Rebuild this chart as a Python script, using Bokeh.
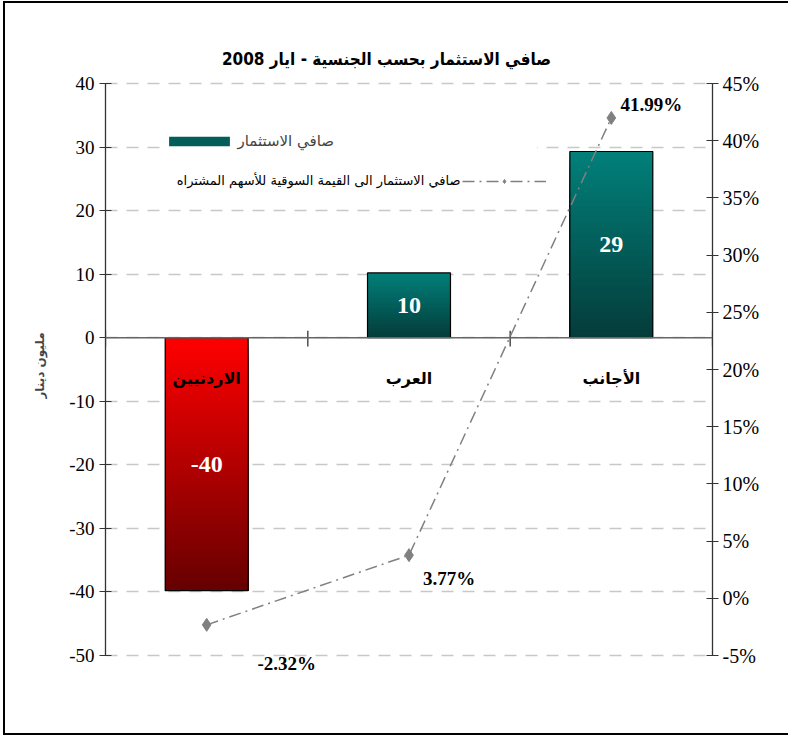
from bokeh.plotting import figure
from bokeh.models import (Range1d, LinearAxis, FactorRange, FixedTicker, PrintfTickFormatter,
                          Legend, LegendItem, Label, ColumnDataSource, Span)
from bokeh.transform import dodge
from bokeh.core.properties import value
from bokeh.embed import file_html
from bokeh.resources import INLINE

# ---------------- data ----------------
categories = ["الاردنيين", "العرب", "الأجانب"]
net_investment = [-39.8, 10.2, 29.3]          # million JD
market_value_pct = [-2.32, 3.77, 41.99]       # percent
left_ticks = [-50, -40, -30, -20, -10, 0, 10, 20, 30, 40]
right_ticks = [-5, 0, 5, 10, 15, 20, 25, 30, 35, 40, 45]
title_text = "صافي الاستثمار بحسب الجنسية - ايار 2008"
bar_series_name = "صافي الاستثمار"
line_series_name = "صافي الاستثمار الى القيمة السوقية للأسهم المشتراه"
y_axis_title = "مليون دينار"

# ---------------- layout (pixels) ----------------
OFF_X, OFF_Y = 5, 3                 # figure offset on the page
W, H = 783, 730
AX_TOP, AX_BOT = 83, 655            # where the axis bounds sit
FR_LEFT, FR_RIGHT = 105, 712
FR_TOP, FR_BOT = 40, 690            # extended frame so outside-axis texts are not clipped
L_MIN, L_MAX = left_ticks[0], left_ticks[-1]
R_MIN, R_MAX = right_ticks[0], right_ticks[-1]
ppu_l = (AX_BOT - AX_TOP) / (L_MAX - L_MIN)
ppu_r = (AX_BOT - AX_TOP) / (R_MAX - R_MIN)
left_range = Range1d(L_MIN - (FR_BOT - AX_BOT) / ppu_l, L_MAX + (AX_TOP - FR_TOP) / ppu_l)
right_range = Range1d(R_MIN - (FR_BOT - AX_BOT) / ppu_r, R_MAX + (AX_TOP - FR_TOP) / ppu_r)

def y_at(px):            # left-axis data value at a page pixel row
    return L_MAX - (px - AX_TOP) / ppu_l

def x_at(px):            # synthetic categorical coordinate at a page pixel column
    return (px - FR_LEFT) / (FR_RIGHT - FR_LEFT) * len(categories)

# ---------------- styles ----------------
SERIF = "Liberation Serif"
SANS = "DejaVu Sans"
POS_TOP, POS_BOT = (2, 128, 122), (4, 60, 58)
NEG_TOP, NEG_BOT = (255, 0, 0), (102, 0, 0)
BAR_W = 0.41
N_SLICES = 80

p = figure(x_range=FactorRange(*categories), y_range=left_range,
           width=W, height=H, output_backend="svg", toolbar_location=None,
           x_axis_location=None,
           min_border_left=FR_LEFT - OFF_X, min_border_right=OFF_X + W - FR_RIGHT,
           min_border_top=FR_TOP - OFF_Y, min_border_bottom=OFF_Y + H - FR_BOT)
p.extra_y_ranges = {"pct": right_range}
p.outline_line_color = None
p.background_fill_color = "white"
p.border_fill_color = "white"
p.styles = {"outline": "2px solid black",
            "margin-left": "%dpx" % OFF_X, "margin-top": "%dpx" % OFF_Y}

# grid
p.xgrid.visible = False
p.ygrid.ticker = FixedTicker(ticks=left_ticks)
p.ygrid.grid_line_color = "#C8C8C8"
p.ygrid.grid_line_dash = "12 9"
p.ygrid.grid_line_width = 1.3

# left axis
yax = p.yaxis[0]
yax.ticker = FixedTicker(ticks=left_ticks)
yax.formatter = PrintfTickFormatter(format="%d")
yax.bounds = (L_MIN, L_MAX)
yax.major_label_text_font = SERIF
yax.major_label_text_font_size = "19px"
yax.major_label_text_color = "black"
yax.major_tick_out = 6
yax.major_tick_in = 6
yax.minor_tick_line_color = None
yax.axis_line_color = "#333333"
yax.major_tick_line_color = "#333333"
yax.axis_line_width = 1.3
yax.major_label_standoff = 5
yax.axis_label = y_axis_title
yax.axis_label_text_font = SANS
yax.axis_label_text_font_style = "bold"
yax.axis_label_text_font_size = "12px"
yax.axis_label_standoff = 19

# right axis
rax = LinearAxis(y_range_name="pct", ticker=FixedTicker(ticks=right_ticks),
                 formatter=PrintfTickFormatter(format="%d%%"), bounds=(R_MIN, R_MAX))
rax.major_label_text_font = SERIF
rax.major_label_text_font_size = "20px"
rax.major_label_text_color = "black"
rax.major_tick_out = 6
rax.major_tick_in = 6
rax.minor_tick_line_color = None
rax.axis_line_color = "#333333"
rax.major_tick_line_color = "#333333"
rax.axis_line_width = 1.3
rax.major_label_standoff = 4
p.add_layout(rax, "right")

# ---------------- bars with vertical gradient ----------------
def lerp(c0, c1, t):
    return "#%02x%02x%02x" % tuple(int(round(a + (b - a) * t)) for a, b in zip(c0, c1))

sx, sb, st, sc = [], [], [], []
for cat, v in zip(categories, net_investment):
    top, bot = max(v, 0), min(v, 0)
    c_top, c_bot = (POS_TOP, POS_BOT) if v >= 0 else (NEG_TOP, NEG_BOT)
    for i in range(N_SLICES):
        sx.append(cat)
        st.append(top - (top - bot) * i / N_SLICES)
        sb.append(bot)                      # overlapping slices: no seams
        sc.append(lerp(c_top, c_bot, (i + 0.5) / N_SLICES))
slices = ColumnDataSource(dict(x=sx, top=st, bottom=sb, color=sc))
slice_r = p.vbar(x="x", top="top", bottom="bottom", width=BAR_W, source=slices,
                 fill_color="color", line_color=None)
outline_r = p.vbar(x=categories, top=net_investment, bottom=0, width=BAR_W,
                   fill_color=None, line_color="black", line_width=1.2)

# zero axis with category boundary ticks
p.add_layout(Span(location=0, dimension="width", line_color="#666666", line_width=1.5))
tick_src = ColumnDataSource(dict(cat=categories))
p.segment(x0=dodge("cat", -0.5, range=p.x_range), x1=dodge("cat", -0.5, range=p.x_range),
          y0=-1.4, y1=1.1, source=tick_src, line_color="#333333", line_width=1.3)
last_src = ColumnDataSource(dict(cat=categories[-1:]))
p.segment(x0=dodge("cat", 0.5, range=p.x_range), x1=dodge("cat", 0.5, range=p.x_range),
          y0=-1.4, y1=1.1, source=last_src, line_color="#333333", line_width=1.3)

# category labels under the zero line
p.text(x=categories, y=[0] * len(categories), text=categories, y_offset=41,
       text_color="black", text_font=value(SANS), text_font_style="bold",
       text_font_size="16px", text_align="center", text_baseline="middle")

# value labels inside bars
p.text(x=categories, y=[v / 2 for v in net_investment],
       text=["%.0f" % v for v in net_investment],
       text_color="white", text_font=value(SERIF), text_font_style="bold",
       text_font_size="24px", text_align="center", text_baseline="middle")

# ---------------- percentage line ----------------
line_r = p.line(x=categories, y=market_value_pct, y_range_name="pct",
                line_color="#808080", line_width=1.5, line_dash="12 5 2 5")
mark_r = p.scatter(x=categories, y=market_value_pct, y_range_name="pct",
                   marker="diamond", size=13, fill_color="#808080", line_color="#808080")
pct_src = ColumnDataSource(dict(x=categories, y=market_value_pct,
                                t=["%.2f%%" % v for v in market_value_pct],
                                xo=[80, 40, 40], yo=[39, 23, -13]))
p.text(x="x", y="y", text="t", source=pct_src, y_range_name="pct",
       x_offset="xo", y_offset="yo",
       text_color="black", text_font=value(SERIF), text_font_style="bold",
       text_font_size="19px", text_align="center", text_baseline="middle")

# ---------------- title ----------------
p.add_layout(Label(x=x_at(386), y=y_at(58), text=title_text, text_align="center",
                   text_baseline="middle", text_font="DejaVu Sans Condensed",
                   text_font_style="bold", text_font_size="17px", text_color="black"))

# ---------------- legend ----------------
GW1, GH1 = 76, 12
leg1 = Legend(items=[LegendItem(label=bar_series_name, renderers=[slice_r, outline_r],
                                index=2 * N_SLICES + N_SLICES // 2)],
              location=(175 - 0.1 * GW1 - 6 - FR_LEFT, FR_BOT - 12 - 138),
              glyph_width=GW1, glyph_height=GH1,
              label_width=300, padding=6, margin=0, spacing=0, border_line_color=None,
              background_fill_color="white", background_fill_alpha=1.0,
              label_text_font=SANS, label_text_font_size="15px", label_standoff=0)
p.add_layout(leg1)
leg2 = Legend(items=[LegendItem(label=" ", renderers=[line_r, mark_r])],
              location=(462 - FR_LEFT, FR_BOT - 6 - 180), glyph_width=84, glyph_height=10,
              padding=0, margin=0, spacing=0, border_line_color=None,
              background_fill_alpha=0.0, label_text_font_size="2px", label_standoff=0)
p.add_layout(leg2)
p.add_layout(Label(x=x_at(460), y=y_at(180), text=line_series_name, text_align="right",
                   text_baseline="middle", text_font=SANS, text_font_size="13px",
                   text_color="black"))

open("out.html", "w").write(file_html(p, INLINE))
